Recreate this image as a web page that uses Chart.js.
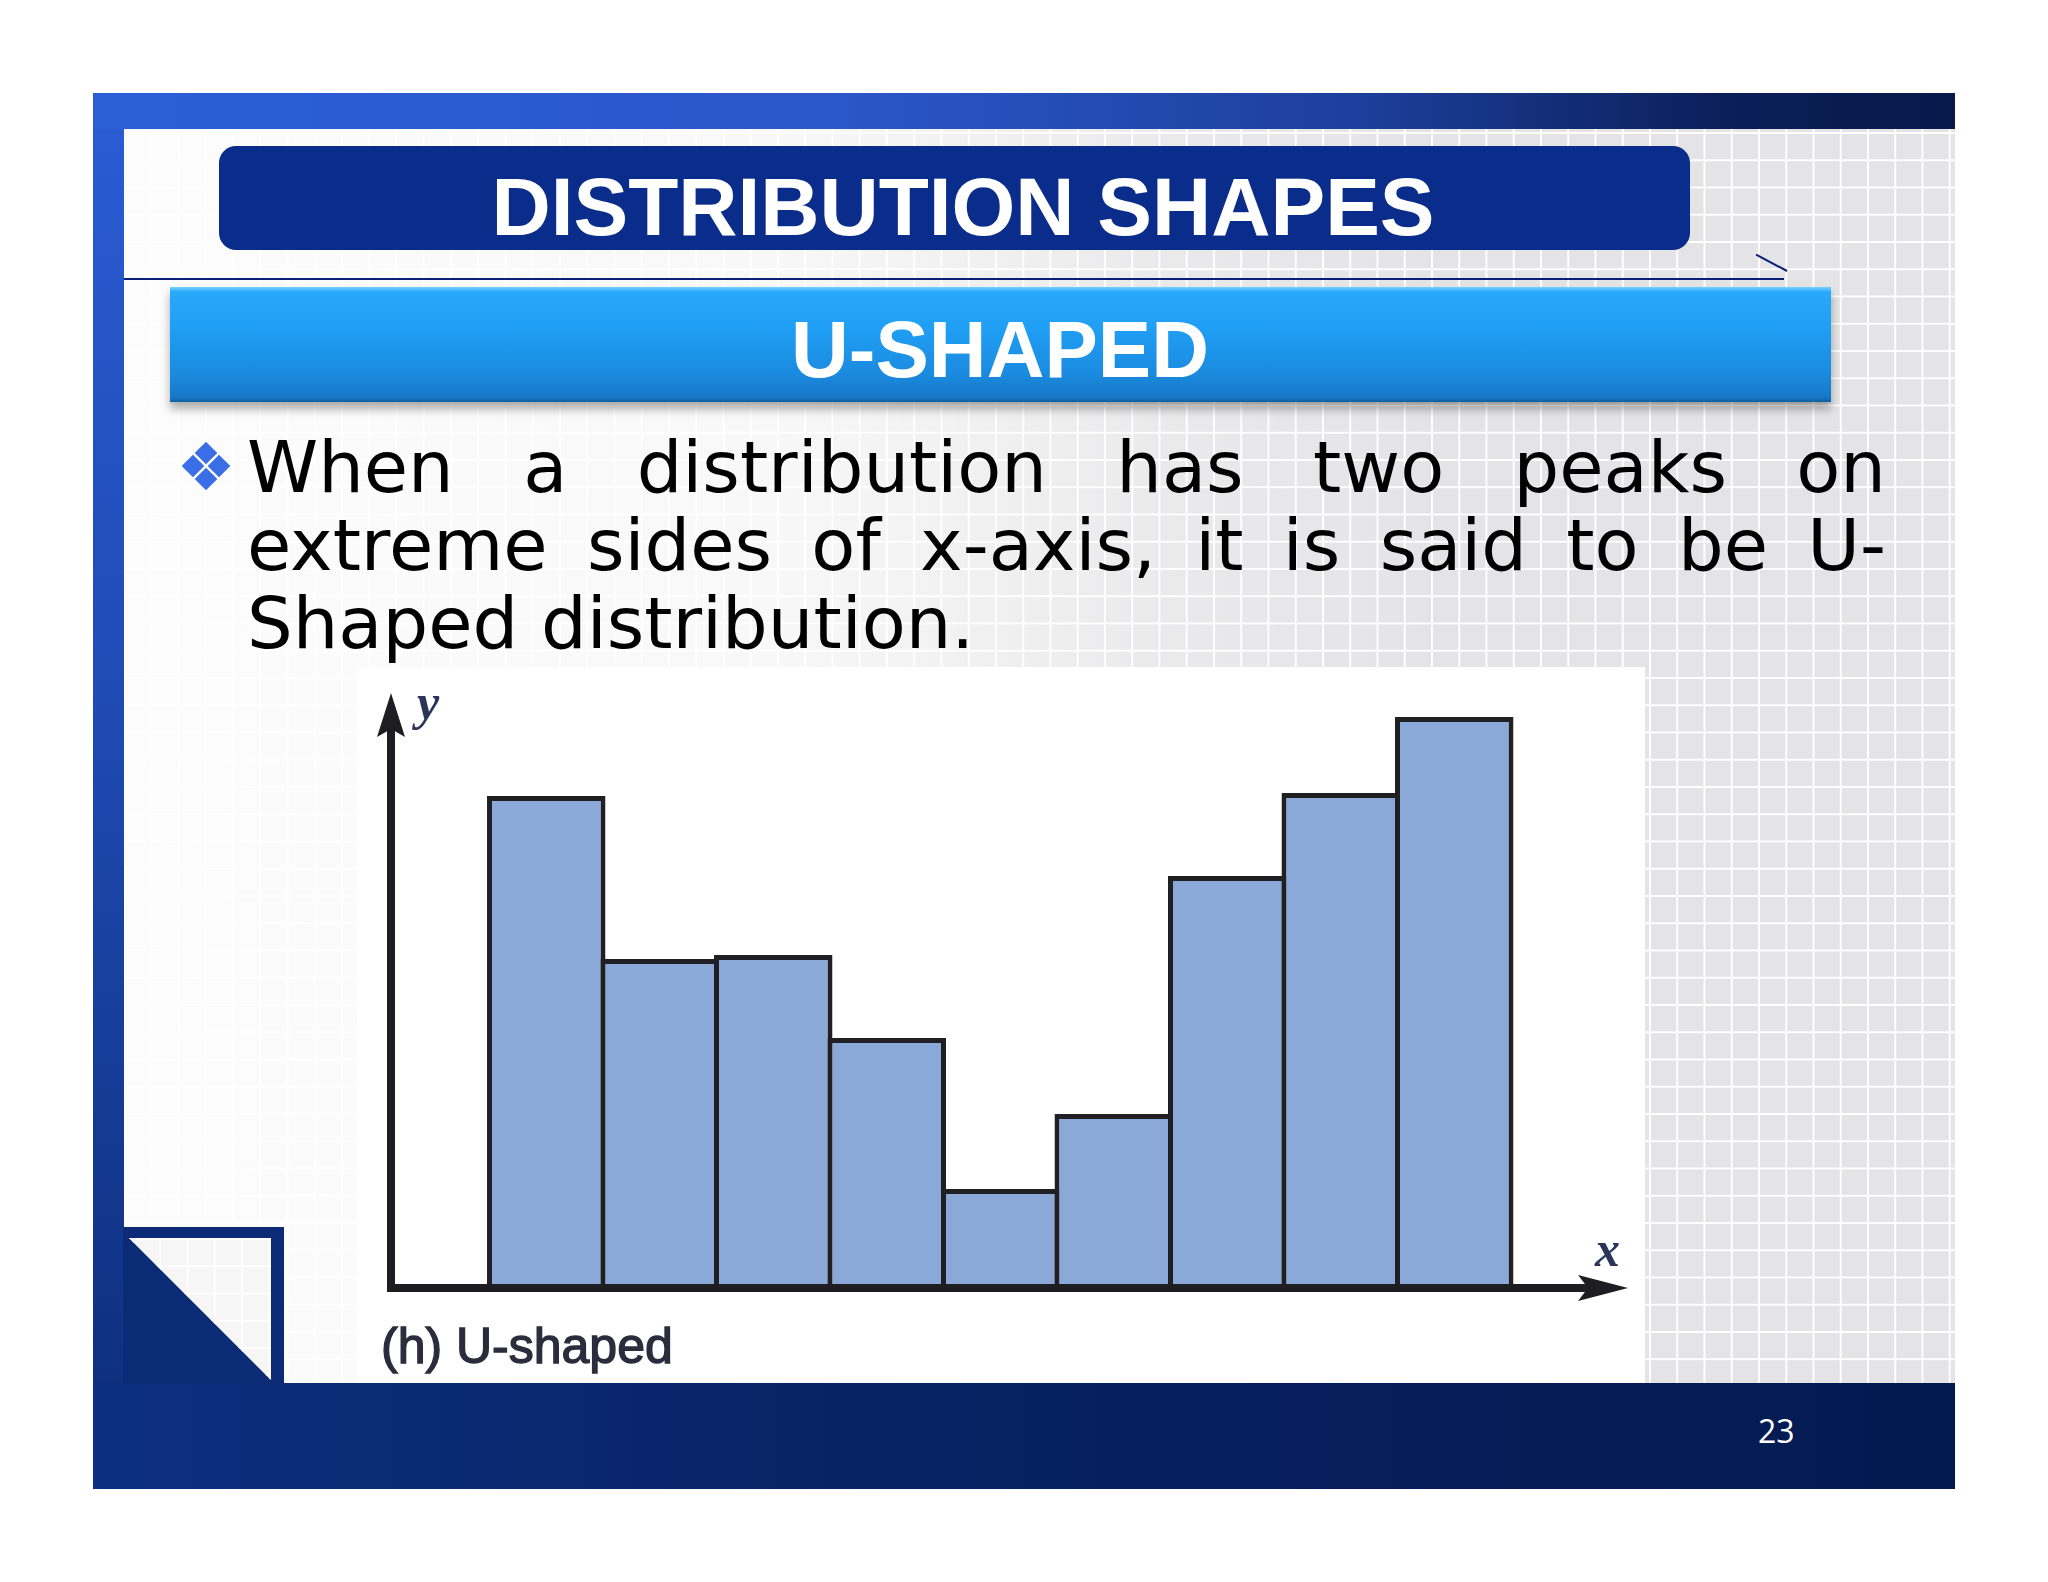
<!DOCTYPE html>
<html>
<head>
<meta charset="utf-8">
<title>Distribution shapes - U-shaped</title>
<script src="https://cdn.jsdelivr.net/npm/chart.js@4.4.0/dist/chart.umd.min.js"></script>
<style>
  html, body { margin: 0; padding: 0; background: #fff; }
  #slide { position: relative; width: 2048px; height: 1582px; overflow: hidden; background: #fff; }
  .abs { position: absolute; }

  /* slide frame */
  #topBand { left: 93px; top: 93px; width: 1862px; height: 36px;
    background: linear-gradient(to right, #2b5fd8 0%, #2a57c9 40%, #1d3f9c 68%, #0b1f58 88%, #08194b 100%); }
  #leftBand { left: 93px; top: 129px; width: 31px; height: 1254px;
    background: linear-gradient(to bottom, #2a5bd2 0%, #1f4bb4 45%, #0e307f 100%); }
  #bottomBand { left: 93px; top: 1383px; width: 1862px; height: 106px;
    background: linear-gradient(to right, #0d2f80 0%, #072262 45%, #031a50 100%); }
  .grid { background-color: #e4e4e6;
    background-image: linear-gradient(to right, rgba(255,255,255,.95) 2px, transparent 2px),
                      linear-gradient(to bottom, rgba(255,255,255,.95) 2px, transparent 2px);
    background-size: 27.25px 27.25px; }
  #inner { left: 124px; top: 129px; width: 1831px; height: 1254px; background-position: -1px 3px; }
  #wash { left: 124px; top: 129px; width: 1831px; height: 1254px;
    background: linear-gradient(to right, rgba(255,255,255,.9) 0%, rgba(255,255,255,.75) 35%, rgba(255,255,255,.2) 58%, rgba(255,255,255,0) 72%); }

  /* folded corner */
  #fold { left: 123px; top: 1227px; width: 161px; height: 157px; background: #0b2b76; }
  #foldFace { left: 129px; top: 1238px; width: 142px; height: 142px;
    clip-path: polygon(0 0, 100% 0, 100% 100%); background-position: 3px 0; }
  #foldWash { left: 129px; top: 1238px; width: 142px; height: 142px;
    clip-path: polygon(0 0, 100% 0, 100% 100%); background: rgba(255,255,255,.65); }

  /* headings */
  #titleBox { left: 219px; top: 146px; width: 1471px; height: 104px; border-radius: 17px; background: #0a2d8c; }
  #titleText { left: 363px; top: 166px; width: 1200px; text-align: center; color: #fff;
    font: bold 82px/81px "Liberation Sans", Arial, sans-serif; white-space: nowrap; }
  #rule { left: 124px; top: 278px; width: 1660px; height: 2px; background: #0a1f7a; }
  #ruleTick { left: 1752px; top: 270px; width: 35px; height: 2px; background: #0a1f7a;
    transform: rotate(28deg); transform-origin: 100% 50%; }
  #subBar { left: 170px; top: 287px; width: 1661px; height: 115px;
    background: linear-gradient(to bottom, #74d3ff 0px, #2aa8fb 5px, #1f9ff5 35%, #1b8bdf 75%, #1777c6 96%, #105f9e 100%);
    box-shadow: 0 7px 9px rgba(0,0,0,.32); }
  #subText { left: 700px; top: 310px; width: 600px; text-align: center; color: #fff;
    font: bold 80px/80px "Liberation Sans", Arial, sans-serif; white-space: nowrap; }

  /* bullet text */
  .line { left: 247px; width: 1639px; height: 78px; color: #000;
    font: 72px/78px "DejaVu Sans", Verdana, sans-serif; white-space: nowrap; }
  .just { text-align: justify; text-align-last: justify; white-space: normal; }
  .dia { width: 16px; height: 16px; background: #3a6ee6; transform: rotate(45deg); }

  /* chart */
  #chartBox { left: 357px; top: 667px; width: 1288px; height: 716px; background: #fff; }
  #caption { left: 381px; top: 1321px; color: #2c2c3c;
    font: 50px/50px "Liberation Sans", Arial, sans-serif; -webkit-text-stroke: 1.4px #2c2c3c; white-space: nowrap; }
  #pageNum { left: 1758px; top: 1415px; color: #fff; font: 32px/32px "Open Sans", sans-serif; }
</style>
</head>
<body>
<div id="slide">
  <div id="topBand" class="abs"></div>
  <div id="leftBand" class="abs"></div>
  <div id="bottomBand" class="abs"></div>
  <div id="inner" class="abs grid"></div>
  <div id="wash" class="abs"></div>

  <div id="fold" class="abs"></div>
  <div id="foldFace" class="abs grid"></div>
  <div id="foldWash" class="abs"></div>

  <div id="titleBox" class="abs"></div>
  <div id="titleText" class="abs">DISTRIBUTION SHAPES</div>
  <div id="rule" class="abs"></div>
  <div id="ruleTick" class="abs"></div>
  <div id="subBar" class="abs"></div>
  <div id="subText" class="abs">U-SHAPED</div>

  <div class="abs dia" style="left:198px;top:445px"></div>
  <div class="abs dia" style="left:185px;top:458px"></div>
  <div class="abs dia" style="left:211px;top:458px"></div>
  <div class="abs dia" style="left:198px;top:471px"></div>

  <div class="abs line just" style="top:428px">When a distribution has two peaks on</div>
  <div class="abs line just" style="top:506px">extreme sides of x-axis, it is said to be U-</div>
  <div class="abs line" style="top:584px">Shaped distribution.</div>

  <div id="chartBox" class="abs">
    <canvas id="chartCanvas" width="1288" height="716"></canvas>
  </div>
  <div id="caption" class="abs">(h) U-shaped</div>
  <div id="pageNum" class="abs">23</div>
</div>

<script>
// Histogram data (bar heights, arbitrary units)
const binCentres = [1, 2, 3, 4, 5, 6, 7, 8, 9];
const frequencies = [49.2, 32.9, 33.3, 25.0, 9.9, 17.4, 41.2, 49.5, 57.1];

// Axis extents: x axis runs a little left of the first bin, y axis up to the arrow tip
const xRange = [-0.368, 10.531];
const yMax = 59.5;
const axisLabels = ['x', 'y'];

// Draws the two arrowed axes and their letters
const arrowAxes = {
  id: 'arrowAxes',
  afterDatasetsDraw(chart) {
    const { ctx, scales } = chart;
    const x0 = scales.x.getPixelForValue(xRange[0]);
    const y0 = scales.y.getPixelForValue(0);
    const top = scales.y.getPixelForValue(yMax);
    const right = scales.x.getPixelForValue(xRange[1]);

    ctx.save();
    ctx.strokeStyle = '#1e1e22';
    ctx.fillStyle = '#1e1e22';
    ctx.lineWidth = 8;
    ctx.lineCap = 'butt';

    // y axis
    ctx.beginPath();
    ctx.moveTo(x0, y0 + 4);
    ctx.lineTo(x0, top + 30);
    ctx.stroke();
    // x axis
    ctx.beginPath();
    ctx.moveTo(x0 - 4, y0);
    ctx.lineTo(right - 36, y0);
    ctx.stroke();

    // arrow heads
    ctx.beginPath();
    ctx.moveTo(x0, top);
    ctx.lineTo(x0 + 14, top + 44);
    ctx.lineTo(x0, top + 36);
    ctx.lineTo(x0 - 14, top + 44);
    ctx.closePath();
    ctx.fill();

    ctx.beginPath();
    ctx.moveTo(right, y0);
    ctx.lineTo(right - 50, y0 - 13);
    ctx.lineTo(right - 40, y0);
    ctx.lineTo(right - 50, y0 + 13);
    ctx.closePath();
    ctx.fill();

    // axis letters
    ctx.fillStyle = '#2b3558';
    ctx.font = 'italic bold 50px "Liberation Serif", "Times New Roman", serif';
    ctx.textAlign = 'left';
    ctx.textBaseline = 'alphabetic';
    ctx.fillText(axisLabels[1], x0 + 26, top + 26);
    ctx.fillText(axisLabels[0], right - 33, y0 - 22);
    ctx.restore();
  }
};

const ctx = document.getElementById('chartCanvas').getContext('2d');
const chart = new Chart(ctx, {
  type: 'bar',
  data: {
    datasets: [{
      label: 'U-shaped',
      data: binCentres.map((x, i) => ({ x: x, y: frequencies[i] })),
      backgroundColor: '#8aa9d8',
      borderColor: '#1f1f24',
      borderWidth: 5,
      barPercentage: 1.044, // bars overlap by one border so neighbours share an edge
      categoryPercentage: 1
    }]
  },
  options: {
    responsive: false,
    animation: false,
    devicePixelRatio: 1,
    layout: { padding: { left: 34, right: 17, top: 26, bottom: 95 } },
    plugins: {
      legend: { display: false },
      tooltip: { enabled: false }
    },
    scales: {
      x: {
        type: 'linear',
        display: false,
        offset: false,
        min: xRange[0],
        max: xRange[1],
        ticks: { stepSize: 1, includeBounds: false }
      },
      y: {
        display: false,
        min: 0,
        max: yMax
      }
    }
  },
  plugins: [arrowAxes]
});
</script>
</body>
</html>
